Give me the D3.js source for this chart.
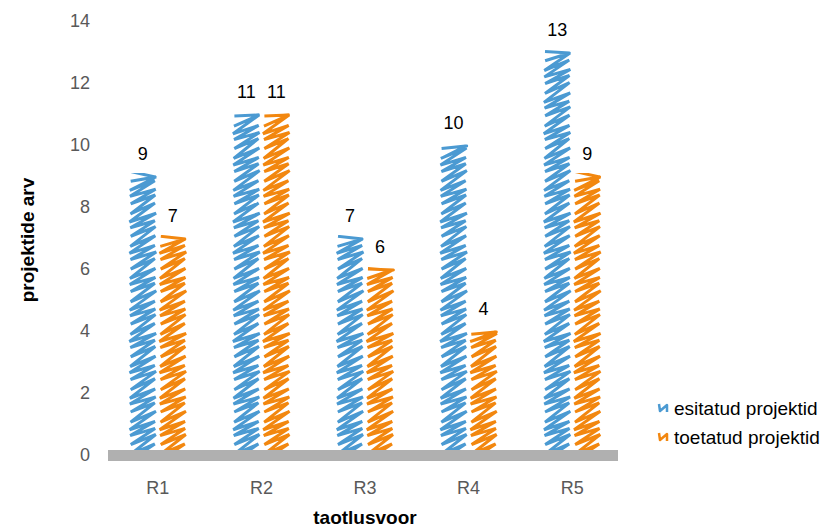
<!DOCTYPE html>
<html><head><meta charset="utf-8">
<script src="https://cdn.jsdelivr.net/npm/d3@7"></script>
<style>body{margin:0;background:#fff}svg{display:block}</style>
</head><body>
<script>
const categories = ["R1","R2","R3","R4","R5"];
const seriesNames = ["esitatud projektid","toetatud projektid"];
const esitatud = [9,11,7,10,13];
const toetatud = [7,11,6,4,9];
const yTicks = [0,2,4,6,8,10,12,14];
const colors = ["#4b9ad2","#f2870f"];

const W=829,H=530;
const svg=d3.select("body").append("svg").attr("width",W).attr("height",H)
  .style("font-family","'Liberation Sans', Arial, sans-serif");

const x=d3.scaleBand().domain(categories).range([106,624]);
const x1=d3.scaleBand().domain([0,1]).range([0,60]);
const y=d3.scaleLinear().domain([0,14]).range([455,21]);

// y tick labels
svg.append("g").selectAll("text").data(yTicks).join("text")
  .attr("x",90).attr("y",d=>y(d)+6).attr("text-anchor","end")
  .attr("font-size",18).attr("fill","#595959").text(d=>d);

const defs=svg.append("defs");
function zig(x0,x1_,yb,yt){
  const pts=[];const step=8,rise=17;
  let yy=yb+6,k=0;
  while(yy>yt-4){
    const j=Math.sin(k*1.7)*1.5;
    pts.push([x0+Math.abs(Math.sin(k*2.3))*1.5,yy+j]);
    pts.push([x1_-Math.abs(Math.cos(k*1.9))*1.5,Math.max(yy-rise-j,yt)]);
    yy-=step;k++;
  }
  return d3.line()(pts);
}
const data=[];
categories.forEach((c,i)=>{
  [esitatud[i],toetatud[i]].forEach((v,s)=>data.push({c,s,v,i}));
});
data.forEach((d,k)=>{
  const bx=x(d.c)+x.bandwidth()/2-30+x1(d.s);
  const bw=x1.bandwidth();
  const top=y(d.v), bot=y(0);
  defs.append("clipPath").attr("id","cp"+k).append("rect")
    .attr("x",bx-1).attr("y",top-3).attr("width",bw+1).attr("height",bot-top+3);
  svg.append("path").attr("d",zig(bx+1.5,bx+bw-1.5,bot,top+1))
    .attr("clip-path","url(#cp"+k+")")
    .attr("fill","none").attr("stroke",colors[d.s]).attr("stroke-width",3)
    .attr("stroke-linecap","round").attr("stroke-linejoin","miter");
  svg.append("text").attr("x",bx+bw/2).attr("y",top-16).attr("text-anchor","middle")
    .attr("font-size",18).attr("fill","#000").text(d.v);
});

// baseline
svg.append("rect").attr("x",108).attr("y",450).attr("width",510).attr("height",11).attr("fill","#b0b0b0");

// category labels
svg.append("g").selectAll("text").data(categories).join("text")
  .attr("x",d=>x(d)+x.bandwidth()/2).attr("y",494).attr("text-anchor","middle")
  .attr("font-size",18).attr("fill","#595959").text(d=>d);

// axis titles
svg.append("text").attr("x",365).attr("y",524).attr("text-anchor","middle")
  .attr("font-size",19).attr("font-weight","bold").attr("fill","#000").text("taotlusvoor");
svg.append("text").attr("transform","translate(34,240) rotate(-90)").attr("text-anchor","middle")
  .attr("font-size",19).attr("font-weight","bold").attr("fill","#000").text("projektide arv");

// legend
seriesNames.forEach((n,s)=>{
  const ly=408+s*29;
  svg.append("path").attr("d",`M${659},${ly-4} L${660},${ly+3} L${667},${ly-3} L${667},${ly+4}`)
    .attr("fill","none").attr("stroke",colors[s]).attr("stroke-width",2.5).attr("stroke-linejoin","round");
  svg.append("text").attr("x",674).attr("y",ly+7).attr("font-size",19).attr("fill","#000").text(n);
});
</script>
</body></html>
